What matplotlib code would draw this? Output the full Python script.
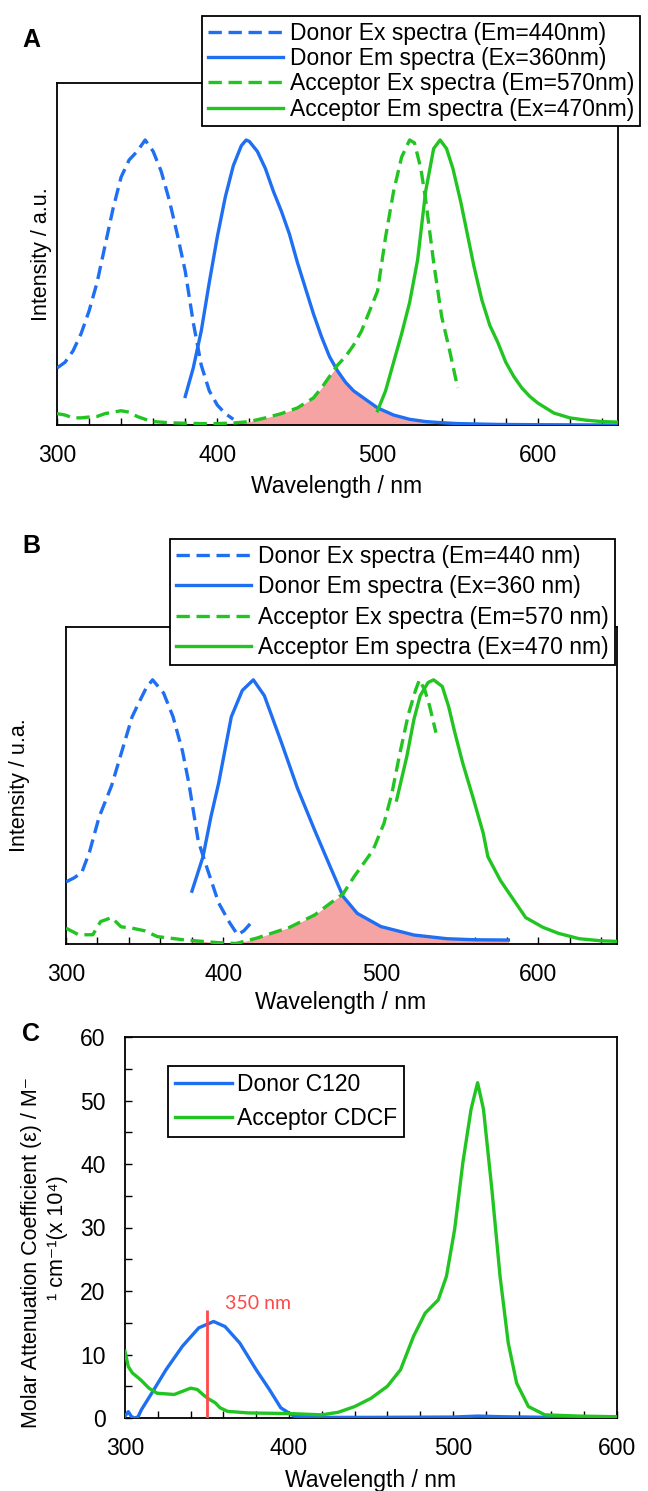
import numpy as np
import matplotlib
matplotlib.use('Agg')
import matplotlib.pyplot as plt
from matplotlib.ticker import MultipleLocator
from matplotlib.lines import Line2D

plt.rcParams['font.family'] = ['Liberation Sans', 'DejaVu Sans']

W, H = 648, 1491
blue = '#1f6ff2'
green = '#22c422'
fillRed = '#f5a3a3'
lineRed = '#ff4848'

# ---- panel A (normalized intensity) ----
aDonorExX = [300, 305, 310, 315, 320, 325, 330, 335, 340, 345, 350, 355, 360, 365, 370, 375, 380, 385, 390, 395, 400, 405, 410]
aDonorExY = [0.20, 0.22, 0.26, 0.32, 0.40, 0.50, 0.63, 0.76, 0.87, 0.93, 0.96, 1.00, 0.96, 0.89, 0.79, 0.67, 0.54, 0.36, 0.21, 0.12, 0.07, 0.04, 0.02]

aDonorEmX = [380, 385, 390, 395, 400, 405, 410, 415, 418, 420, 425, 430, 435, 440, 445, 450, 455, 460, 465, 470, 475, 480, 485, 490, 495, 500, 510, 520, 530, 540, 550, 575, 600, 650]
aDonorEmY = [0.10, 0.20, 0.33, 0.50, 0.66, 0.80, 0.91, 0.98, 1.00, 0.995, 0.96, 0.90, 0.82, 0.75, 0.67, 0.57, 0.48, 0.39, 0.31, 0.24, 0.19, 0.15, 0.12, 0.10, 0.08, 0.06, 0.035, 0.02, 0.012, 0.008, 0.005, 0.002, 0.001, 0.0]

aAccExX = [300, 305, 310, 315, 320, 325, 330, 335, 340, 345, 350, 355, 360, 370, 380, 390, 400, 410, 420, 430, 440, 450, 460, 465, 470, 475, 480, 485, 490, 495, 500, 505, 510, 515, 520, 523, 527, 530, 535, 540, 545, 550]
aAccExY = [0.04, 0.035, 0.025, 0.025, 0.028, 0.03, 0.04, 0.045, 0.05, 0.045, 0.03, 0.02, 0.012, 0.008, 0.006, 0.005, 0.005, 0.007, 0.012, 0.025, 0.04, 0.06, 0.095, 0.13, 0.17, 0.21, 0.24, 0.28, 0.33, 0.40, 0.47, 0.66, 0.82, 0.94, 1.00, 0.99, 0.90, 0.79, 0.57, 0.38, 0.26, 0.13]

aAccEmX = [500, 505, 510, 515, 520, 525, 530, 535, 539, 543, 547, 552, 556, 560, 565, 570, 575, 580, 585, 590, 595, 600, 610, 620, 630, 640, 650]
aAccEmY = [0.05, 0.12, 0.22, 0.32, 0.43, 0.58, 0.82, 0.97, 1.00, 0.97, 0.90, 0.78, 0.67, 0.56, 0.44, 0.35, 0.29, 0.22, 0.17, 0.13, 0.10, 0.077, 0.042, 0.025, 0.017, 0.012, 0.01]

aLabels = ['Donor Ex spectra (Em=440nm)', 'Donor Em spectra (Ex=360nm)',
           'Acceptor Ex spectra (Em=570nm)', 'Acceptor Em spectra (Ex=470nm)']

# ---- panel B (normalized intensity) ----
bDonorExX = [300, 305, 310, 315, 321, 329, 337, 342, 346, 351, 355, 362, 368, 374, 378, 384, 390, 397, 404, 409, 413, 418, 420]
bDonorExY = [0.235, 0.25, 0.27, 0.35, 0.48, 0.60, 0.76, 0.86, 0.91, 0.97, 1.00, 0.95, 0.86, 0.73, 0.61, 0.39, 0.28, 0.155, 0.08, 0.035, 0.05, 0.083, 0.09]

bDonorEmX = [380, 387, 392, 397, 405, 412, 419, 426, 437, 447, 458, 468, 476, 485, 500, 521, 542, 560, 581]
bDonorEmY = [0.20, 0.33, 0.48, 0.61, 0.86, 0.96, 1.00, 0.94, 0.76, 0.59, 0.43, 0.29, 0.18, 0.116, 0.066, 0.034, 0.02, 0.016, 0.015]

bAccExX = [300, 308, 317, 322, 329, 335, 342, 350, 358, 376, 397, 408, 421, 442, 458, 468, 476, 483, 489, 495, 502, 507, 512, 517.5, 522, 524.5, 528, 531, 535]
bAccExY = [0.06, 0.035, 0.035, 0.085, 0.10, 0.065, 0.06, 0.05, 0.028, 0.015, 0.005, 0.002, 0.022, 0.063, 0.11, 0.155, 0.19, 0.255, 0.305, 0.355, 0.457, 0.57, 0.72, 0.87, 0.96, 1.00, 0.96, 0.90, 0.80]

bAccEmX = [510, 516.5, 521, 525, 530, 533.5, 539, 543, 547, 552, 559, 565, 568, 576, 584, 592, 603, 613, 626, 640, 650]
bAccEmY = [0.545, 0.71, 0.85, 0.94, 0.99, 1.00, 0.975, 0.90, 0.80, 0.685, 0.545, 0.42, 0.33, 0.24, 0.17, 0.10, 0.063, 0.04, 0.02, 0.012, 0.01]

bLabels = ['Donor Ex spectra (Em=440 nm)', 'Donor Em spectra (Ex=360 nm)',
           'Acceptor Ex spectra (Em=570 nm)', 'Acceptor Em spectra (Ex=470 nm)']

# ---- panel C (molar attenuation, x10^4) ----
cDonorX = [300, 302, 304, 306, 308, 310, 317, 325, 335, 345, 354, 361, 370, 380, 388, 395, 403, 420, 450, 500, 515, 530, 560, 600]
cDonorY = [0.3, 1.0, 0.2, 0.0, 0.2, 1.3, 4.2, 7.6, 11.3, 14.2, 15.2, 14.4, 11.8, 7.6, 4.5, 1.6, 0.3, 0.1, 0.1, 0.15, 0.3, 0.2, 0.1, 0.1]

cAccX = [300, 302, 304.5, 309.6, 314.6, 319.6, 325, 330, 335, 340, 344, 347.5, 351, 355, 358, 362.5, 375, 400, 420, 430, 440, 450, 460, 468, 476, 483, 491, 496, 501, 506, 511, 515, 518.6, 523.7, 528.7, 533.7, 538.8, 546, 556, 577, 600]
cAccY = [10.5, 8.1, 7.1, 6.0, 4.7, 3.9, 3.8, 3.7, 4.2, 4.7, 4.5, 3.7, 3.0, 2.4, 1.6, 1.05, 0.8, 0.7, 0.5, 0.9, 1.8, 3.1, 5.0, 7.6, 12.9, 16.5, 18.6, 22.3, 29.7, 40.2, 48.6, 52.8, 48.6, 36.0, 22.3, 11.8, 5.5, 1.8, 0.5, 0.3, 0.2]

cLabels = ['Donor C120', 'Acceptor CDCF']
cMarkWavelength = 350
cMarkHeight = 17


def axRect(left, top, right, bottom):
    return [left / W, 1 - bottom / H, (right - left) / W, (bottom - top) / H]


def figText(x, y, s, **kw):
    return fig.text(x / W, 1 - y / H, s, **kw)


def styleAxes(ax):
    for sp in ax.spines.values():
        sp.set_linewidth(1.3)
        sp.set_color('black')
    ax.xaxis.set_minor_locator(MultipleLocator(20))
    ax.tick_params(axis='x', which='both', direction='in', length=5, width=1, top=False, pad=14, labelsize=16.5)


def spectraPanel(rect, dEx, dEm, aEx, aEm, labels, legendAt, labelSpacing):
    ax = fig.add_axes(rect)
    ax.plot(dEx[0], dEx[1], color=blue, lw=2.4, ls=(0, (4, 2)), zorder=3)
    ax.plot(dEm[0], dEm[1], color=blue, lw=2.4, zorder=3)
    ax.plot(aEx[0], aEx[1], color=green, lw=2.4, ls=(0, (4, 2)), zorder=3)
    ax.plot(aEm[0], aEm[1], color=green, lw=2.4, zorder=3)

    # spectral overlap
    grid = np.arange(dEm[0][0], dEm[0][-1] + 0.5, 0.5)
    em = np.interp(grid, dEm[0], dEm[1])
    ex = np.interp(grid, aEx[0], aEx[1], left=0, right=1.0)
    ax.fill_between(grid, 0, np.minimum(em, ex), color=fillRed, lw=0, zorder=2)

    ax.set_xlim(300, 650)
    ax.set_ylim(0, 1.2)
    ax.set_xticks([300, 400, 500, 600])
    ax.set_yticks([])
    styleAxes(ax)

    handles = [Line2D([], [], color=blue, lw=2.4, ls=(0, (4, 2))),
               Line2D([], [], color=blue, lw=2.4),
               Line2D([], [], color=green, lw=2.4, ls=(0, (4, 2))),
               Line2D([], [], color=green, lw=2.4)]
    leg = ax.legend(handles, labels, loc='upper left', bbox_to_anchor=legendAt,
                    bbox_transform=fig.transFigure, borderaxespad=0, fontsize=16.5,
                    handlelength=3.3, handletextpad=0.3, labelspacing=labelSpacing,
                    borderpad=0.25, fancybox=False, framealpha=1, edgecolor='black')
    leg.get_frame().set_linewidth(1.3)
    return ax


fig = plt.figure(figsize=(W / 100, H / 100), dpi=100)

# A
spectraPanel(axRect(57, 83, 618, 425), (aDonorExX, aDonorExY), (aDonorEmX, aDonorEmY),
             (aAccExX, aAccExY), (aAccEmX, aAccEmY), aLabels, (202 / W, 1 - 16 / H), 0.1)
figText(31, 40, 'A', fontsize=18, fontweight='bold', ha='center', va='center')
figText(41, 254, 'Intensity / a.u.', fontsize=15.5, rotation=90, ha='center', va='center')
figText(337, 486, 'Wavelength / nm', fontsize=16.5, ha='center', va='center')

# B
spectraPanel(axRect(66, 627, 617, 944), (bDonorExX, bDonorExY), (bDonorEmX, bDonorEmY),
             (bAccExX, bAccExY), (bAccEmX, bAccEmY), bLabels, (170 / W, 1 - 539 / H), 0.33)
figText(31, 546, 'B', fontsize=18, fontweight='bold', ha='center', va='center')
figText(20, 785, 'Intensity / u.a.', fontsize=15.5, rotation=90, ha='center', va='center')
figText(341, 1003, 'Wavelength / nm', fontsize=16.5, ha='center', va='center')

# C
axC = fig.add_axes(axRect(125, 1037, 617, 1418))
axC.plot(cDonorX, cDonorY, color=blue, lw=2.4, label=cLabels[0], zorder=3)
axC.plot(cAccX, cAccY, color=green, lw=2.4, label=cLabels[1], zorder=3)
axC.vlines(cMarkWavelength, 0, cMarkHeight, color=lineRed, lw=2, zorder=4)
axC.text(cMarkWavelength + 11, cMarkHeight + 1.1, '350 nm', color=lineRed, fontsize=14,
         family=['Lato', 'DejaVu Sans'], ha='left', va='center')
axC.set_xlim(300, 600)
axC.set_ylim(0, 60)
axC.set_xticks([300, 400, 500, 600])
axC.yaxis.set_major_locator(MultipleLocator(10))
axC.yaxis.set_minor_locator(MultipleLocator(5))
styleAxes(axC)
axC.tick_params(axis='y', which='both', direction='in', length=5, width=1, right=False, pad=14, labelsize=16.5)
legC = axC.legend(loc='upper left', bbox_to_anchor=(168 / W, 1 - 1066 / H), bbox_transform=fig.transFigure,
                  borderaxespad=0, fontsize=16.5, handlelength=2.5, handletextpad=0.2, labelspacing=0.5,
                  borderpad=0.3, fancybox=False, framealpha=1, edgecolor='black')
legC.get_frame().set_linewidth(1.3)
figText(31, 1034, 'C', fontsize=18, fontweight='bold', ha='center', va='center')
figText(32, 1252, 'Molar Attenuation Coefficient (\u03b5) / M\u207b', fontsize=15.5, rotation=90, ha='center', va='center')
figText(57, 1238, '\u00b9 cm\u207b\u00b9(x 10\u2074)', fontsize=15.5, rotation=90, ha='center', va='center')
figText(371, 1480, 'Wavelength / nm', fontsize=16.5, ha='center', va='center')

fig.savefig('out.png', dpi=100)
